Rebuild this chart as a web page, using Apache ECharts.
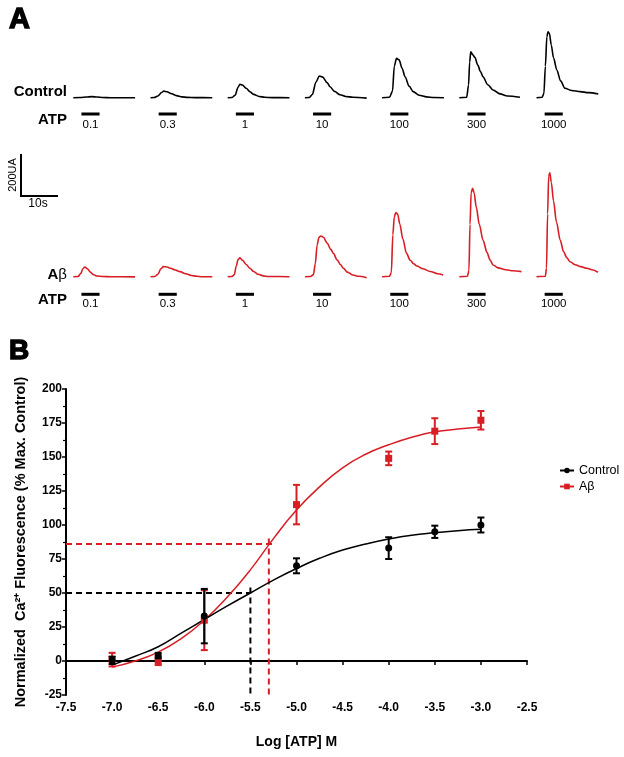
<!DOCTYPE html>
<html><head><meta charset="utf-8">
<script src="https://cdn.jsdelivr.net/npm/echarts@6/dist/echarts.min.js"></script>
<style>html,body{margin:0;padding:0;background:#fff}#c{width:624px;height:757px}</style>
</head><body><div id="c"></div>
<script>
// ---------- DATA ----------
// Panel A: ATP concentrations (µM) and ATP application window (s)
const concentrations = ['0.1', '0.3', '1', '10', '100', '300', '1000'];
const atpWindow = [2.2, 7.1];
// Panel A traces: [time (s), fluorescence (UA)]
const ctrl01 = [[0,0],[2,1],[3.5,3],[5,5],[6.5,3],[8,1],[10,0],[16.7,0]];
const ctrl03 = [[0,0],[1,1],[2,8],[3,25],[3.6,32],[4.5,28],[5.5,20],[7,10],[8.5,4],[10,1.5],[12,0.5],[16.7,0]];
const ctrl1 = [[0,0],[1.2,1],[2,12],[2.8,50],[3.3,64],[4,60],[5,45],[6,28],[7,16],[8.5,6],[10,2],[12,0.5],[16.7,0]];
const ctrl10 = [[0,0],[1.2,1],[2,15],[3,75],[3.9,103],[4.8,98],[6,72],[6.8,52],[8,30],[9.5,14],[11,6],[13,2],[16.7,-2]];
const ctrl100 = [[0,0],[2,2],[2.8,30],[3.3,150],[3.9,188],[4.6,180],[5.4,140],[6.2,100],[7.3,55],[8.4,29],[10,12],[12,4],[14,1],[16.7,0]];
const ctrl300 = [[0,0],[2,2],[2.5,60],[2.8,170],[3.1,219],[3.6,205],[4.2,192],[5,155],[5.7,125],[6.4,100],[7.7,62],[9.1,37],[11,18],[13,8],[16.4,2]];
const ctrl1000 = [[0,0],[1.5,2],[2,20],[2.4,150],[2.8,290],[3.1,314],[3.5,305],[4,250],[4.6,190],[5.5,132],[6.5,80],[7.7,45],[9.5,34],[11.8,29],[14,24],[16.7,18]];
const abeta01 = [[0,0],[1.3,1],[2,15],[2.6,38],[3.1,46],[3.8,38],[4.6,22],[5.5,9],[6.5,3],[8,1],[10,0],[16.7,-1]];
const abeta03 = [[0,0],[1.2,1],[2,12],[2.8,38],[3.5,48],[4.5,46],[5.5,40],[6.5,33],[8,24],[9.5,14],[11,6],[12.5,2],[14,0],[16.7,0]];
const abeta1 = [[0,0],[1.2,1],[1.8,10],[2.3,50],[2.8,82],[3.3,90],[4,78],[5,58],[6,40],[7,25],[8.2,12],[9.6,4],[11,1],[16.7,0]];
const abeta10 = [[0,0],[1.5,1],[2.3,10],[2.8,60],[3.3,150],[3.8,188],[4.3,194],[5,188],[6,160],[7,130],[7.7,111],[8.7,80],[9.6,58],[10.4,40],[11.5,22],[13,8],[14.5,2],[16.7,-5]];
const abeta100 = [[0,0],[2,2],[2.5,20],[2.9,200],[3.3,285],[3.7,305],[4.2,298],[4.8,250],[5.6,180],[6.6,111],[7.6,78],[8.5,62],[9.4,51],[11,38],[13,25],[15,14],[16.5,8]];
const abeta300 = [[0,0],[2.2,2],[2.6,30],[2.9,250],[3.2,400],[3.6,421],[4,400],[4.6,330],[5.4,250],[6.4,175],[7.5,115],[8.3,80],[9.1,56],[10.5,42],[12.5,33],[14.5,28],[16.8,24]];
const abeta1000 = [[0,0],[2.4,2],[2.7,40],[3.0,300],[3.3,480],[3.6,495],[4,450],[4.6,360],[5.4,260],[6.4,175],[7.3,120],[8.2,90],[9.1,71],[10.5,57],[12,48],[13.6,40],[15,33],[16.6,21]];
const controlTraces = [ctrl01, ctrl03, ctrl1, ctrl10, ctrl100, ctrl300, ctrl1000];
const abetaTraces = [abeta01, abeta03, abeta1, abeta10, abeta100, abeta300, abeta1000];
const scaleBar = {ua: 200, sec: 10};

// Panel B: dose-response
const logATP = [-7.0, -6.5, -6.0, -5.0, -4.0, -3.5, -3.0];
const controlMean = [0.5, 4, 33, 70, 83, 95, 100];
const controlSem = [2.7, 2, 20, 5.5, 8, 4.5, 5.5];
const abetaMean = [1, 0, 30, 115, 149, 169, 177];
const abetaSem = [5, 3, 22, 14.5, 5, 9.5, 6.8];
const fitX = [-7.0,-6.75,-6.5,-6.25,-6.0,-5.75,-5.5,-5.25,-5.0,-4.75,-4.5,-4.25,-4.0,-3.75,-3.5,-3.25,-3.0];
const controlFit = [-3, 3.5, 10.5, 20.5, 30.5, 40.5, 50, 59.5, 68, 75.5, 81.6, 86, 89.7, 92.5, 94.3, 95.8, 96.8];
const abetaFit = [-4.5, 0, 6.5, 16.5, 30, 47, 67, 90, 111, 128, 142, 152, 159, 164.5, 168.5, 170.5, 172];
const controlEC50 = [-5.5, 50];
const abetaEC50 = [-5.3, 86];
const xTicks = {min: -7.5, max: -2.5, step: 0.5};
const yTicks = {min: -25, max: 200, step: 25};

// ---------- CHART ----------
const FONT = 'Liberation Sans';
const RED = '#d81e25';
const chart = echarts.init(document.getElementById('c'), null, {renderer: 'canvas'});

const pxPerSec = 3.7, pxPerUA = 0.21, traceSpan = 16.8;
const traceLeft0 = 73.3, traceStep = 77.2;
const rows = [
  {traces: controlTraces, color: '#000', baseline: 97.7, yMin: -20, yMax: 340, barOff: 16.3, lblOff: 27.3},
  {traces: abetaTraces, color: RED, baseline: 276.7, yMin: -20, yMax: 520, barOff: 17.6, lblOff: 27.6}
];
const grids = [], xAxes = [], yAxes = [], series = [];
rows.forEach((row, r) => {
  row.traces.forEach((tr, i) => {
    const idx = grids.length;
    const h = (row.yMax - row.yMin) * pxPerUA;
    const bottomPx = row.baseline - row.yMin * pxPerUA;
    grids.push({left: traceLeft0 + i * traceStep, width: traceSpan * pxPerSec, top: bottomPx - h, height: h, outerBoundsMode: 'none', containLabel: false});
    xAxes.push({type: 'value', gridIndex: idx, min: 0, max: traceSpan, show: false});
    yAxes.push({type: 'value', gridIndex: idx, min: row.yMin, max: row.yMax, show: false});
    series.push({type: 'line', xAxisIndex: idx, yAxisIndex: idx, data: tr, showSymbol: false, symbol: 'none',
      smooth: 0.3, smoothMonotone: 'x', lineStyle: {color: row.color, width: 1.6}, silent: true});
  });
});

// Panel B
const B = grids.length;
grids.push({left: 66, right: 97, top: 389, bottom: 62, outerBoundsMode: 'none', containLabel: false});
xAxes.push({type: 'value', gridIndex: B, min: xTicks.min, max: xTicks.max, interval: xTicks.step,
  axisLine: {lineStyle: {color: '#000', width: 2}},
  axisTick: {length: 4, lineStyle: {color: '#000', width: 1.5}},
  axisLabel: {formatter: v => v.toFixed(1), fontWeight: 'bold', fontSize: 12, color: '#000', fontFamily: FONT, margin: 7},
  splitLine: {show: false},
  name: 'Log [ATP] M', nameLocation: 'middle', nameGap: 40,
  nameTextStyle: {fontWeight: 'bold', fontSize: 14, color: '#000', fontFamily: FONT}});
yAxes.push({type: 'value', gridIndex: B, min: yTicks.min, max: yTicks.max, interval: yTicks.step,
  axisLine: {show: true, lineStyle: {color: '#000', width: 2}},
  axisTick: {show: true, length: 4, lineStyle: {color: '#000', width: 1.5}},
  minorTick: {show: true, splitNumber: 2, length: 3, lineStyle: {color: '#000', width: 1.2}},
  axisLabel: {fontWeight: 'bold', fontSize: 12, color: '#000', fontFamily: FONT, margin: 4},
  splitLine: {show: false},
  name: 'Normalized  Ca\u00B2\u207A Fluorescence (% Max. Control)', nameLocation: 'middle', nameGap: 38, nameRotate: 90,
  nameTextStyle: {fontWeight: 'bold', fontSize: 14.5, color: '#000', fontFamily: FONT}});

function errRender(color) {
  return function (params, api) {
    const x = api.value(0), m = api.value(1), e = api.value(2);
    const t = api.coord([x, m + e]), b = api.coord([x, m - e]);
    const cw = 3.5, st = {stroke: color, lineWidth: 2};
    return {type: 'group', children: [
      {type: 'line', shape: {x1: t[0], y1: t[1], x2: b[0], y2: b[1]}, style: st},
      {type: 'line', shape: {x1: t[0] - cw, y1: t[1], x2: t[0] + cw, y2: t[1]}, style: st},
      {type: 'line', shape: {x1: b[0] - cw, y1: b[1], x2: b[0] + cw, y2: b[1]}, style: st}
    ]};
  };
}
const dash = (color) => ({color: color, width: 2, type: [6, 4]});
series.push(
  {name: 'Aβ', type: 'line', xAxisIndex: B, yAxisIndex: B, data: fitX.map((x, i) => [x, abetaFit[i]]),
    smooth: true, showSymbol: false, symbol: 'rect', lineStyle: {color: RED, width: 1.5}, itemStyle: {color: RED}, z: 3},
  {name: 'Control', type: 'line', xAxisIndex: B, yAxisIndex: B, data: fitX.map((x, i) => [x, controlFit[i]]),
    smooth: true, showSymbol: false, symbol: 'circle', lineStyle: {color: '#000', width: 1.5}, itemStyle: {color: '#000'}, z: 4},
  {type: 'line', xAxisIndex: B, yAxisIndex: B, symbol: 'none', lineStyle: dash('#000'), z: 2,
    data: [[xTicks.min, controlEC50[1]], [controlEC50[0], controlEC50[1]]]},
  {type: 'line', xAxisIndex: B, yAxisIndex: B, symbol: 'none', lineStyle: dash('#000'), z: 2,
    data: [[controlEC50[0], controlEC50[1] + 4], [controlEC50[0], yTicks.min]]},
  {type: 'line', xAxisIndex: B, yAxisIndex: B, symbol: 'none', lineStyle: dash(RED), z: 2,
    data: [[xTicks.min, abetaEC50[1]], [abetaEC50[0] + 0.05, abetaEC50[1]]]},
  {type: 'line', xAxisIndex: B, yAxisIndex: B, symbol: 'none', lineStyle: dash(RED), z: 2,
    data: [[abetaEC50[0], abetaEC50[1] + 4], [abetaEC50[0], yTicks.min]]},
  {type: 'custom', xAxisIndex: B, yAxisIndex: B, renderItem: errRender(RED), z: 5,
    encode: {x: 0, y: 1}, data: logATP.map((x, i) => [x, abetaMean[i], abetaSem[i]])},
  {name: 'Aβ pts', type: 'scatter', xAxisIndex: B, yAxisIndex: B, symbol: 'rect', symbolSize: 7,
    itemStyle: {color: RED, opacity: 1}, z: 6, data: logATP.map((x, i) => [x, abetaMean[i]])},
  {type: 'custom', xAxisIndex: B, yAxisIndex: B, renderItem: errRender('#000'), z: 7,
    encode: {x: 0, y: 1}, data: logATP.map((x, i) => [x, controlMean[i], controlSem[i]])},
  {name: 'Control pts', type: 'scatter', xAxisIndex: B, yAxisIndex: B, symbol: 'circle', symbolSize: 7,
    itemStyle: {color: '#000', opacity: 1}, z: 8, data: logATP.map((x, i) => [x, controlMean[i]])}
);

chart.setOption({
  animation: false,
  backgroundColor: '#fff',
  textStyle: {fontFamily: FONT},
  grid: grids, xAxis: xAxes, yAxis: yAxes, series: series,
  legend: {data: ['Control', 'Aβ'], orient: 'vertical', left: 554, top: 459, itemWidth: 14, itemHeight: 7, itemGap: 3,
    selectedMode: false, textStyle: {fontSize: 12.5, color: '#000', fontFamily: FONT}}
});

// ---------- annotations (positioned through the axis scales) ----------
function txt(x, y, text, size, weight, align, extra) {
  return Object.assign({type: 'text', x: x, y: y, silent: true, style: {
    text: text, fill: '#000', font: weight + ' ' + size + 'px ' + FONT,
    textAlign: align, align: align, textVerticalAlign: 'middle', verticalAlign: 'middle'}}, extra || {});
}
const gfx = [];
gfx.push(txt(9, 20, 'A', 28, 'bold', 'left', {style: {text: 'A', fill: '#000', stroke: '#000', lineWidth: 1.4, font: 'bold 29px ' + FONT, textAlign: 'left', align: 'left', textVerticalAlign: 'middle', verticalAlign: 'middle'}}));
gfx.push(txt(9, 351, 'B', 27, 'bold', 'left', {style: {text: 'B', fill: '#000', stroke: '#000', lineWidth: 1.4, font: 'bold 28px ' + FONT, textAlign: 'left', align: 'left', textVerticalAlign: 'middle', verticalAlign: 'middle'}}));
gfx.push(txt(67, 92, 'Control', 15, 'bold', 'right'));
gfx.push({type: 'text', x: 67, y: 275, silent: true, style: {text: '{a|A}{b|β}', align: 'right', textAlign: 'right', verticalAlign: 'middle', textVerticalAlign: 'middle',
  rich: {a: {fontWeight: 'bold', fontSize: 15, fontFamily: FONT, fill: '#000', color: '#000'}, b: {fontWeight: 'normal', fontSize: 15, fontFamily: FONT, fill: '#000', color: '#000'}}}});
gfx.push(txt(67, 120, 'ATP', 15, 'bold', 'right'));
gfx.push(txt(67, 300, 'ATP', 15, 'bold', 'right'));

rows.forEach((row, r) => {
  row.traces.forEach((tr, i) => {
    const gi = r * 7 + i;
    const p0 = chart.convertToPixel({gridIndex: gi}, [atpWindow[0], 0]);
    const p1 = chart.convertToPixel({gridIndex: gi}, [atpWindow[1], 0]);
    gfx.push({type: 'rect', silent: true, shape: {x: p0[0], y: p0[1] + row.barOff - 1.5, width: p1[0] - p0[0], height: 3}, style: {fill: '#000'}});
    gfx.push(txt((p0[0] + p1[0]) / 2, p0[1] + row.lblOff, concentrations[i], 11.5, 'normal', 'center'));
  });
});
// scale bar from the trace scale
const s0 = chart.convertToPixel({gridIndex: 7}, [0, 0]);
const s1 = chart.convertToPixel({gridIndex: 7}, [scaleBar.sec, scaleBar.ua]);
const sbx = 21, sby = 196;
gfx.push({type: 'polyline', silent: true, shape: {points: [[sbx, sby - (s0[1] - s1[1])], [sbx, sby], [sbx + (s1[0] - s0[0]), sby]]},
  style: {stroke: '#000', lineWidth: 2, fill: null}});
gfx.push(txt(13, 175, scaleBar.ua + 'UA', 11, 'normal', 'center', {rotation: Math.PI / 2}));
gfx.push(txt(38, 204, scaleBar.sec + 's', 12, 'normal', 'center'));

chart.setOption({graphic: {elements: gfx}});
</script>
</body></html>
